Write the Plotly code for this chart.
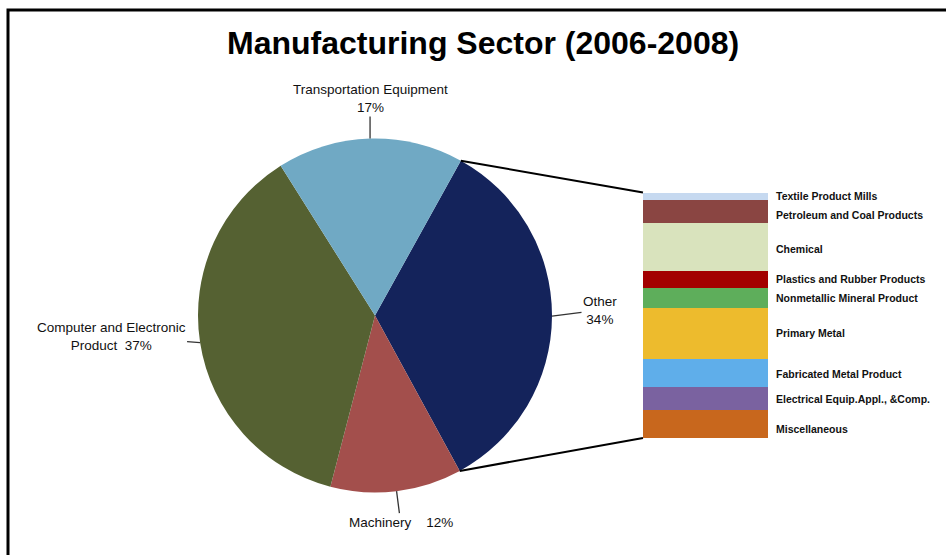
import math
import plotly.graph_objects as go

# ---------------- data ----------------
title_text = "Manufacturing Sector (2006-2008)"

pie_labels = ["Other", "Machinery", "Computer and Electronic Product", "Transportation Equipment"]
pie_values = [34, 12, 37, 17]
pie_colors = ["#14235B", "#A34F4C", "#556132", "#70A9C4"]
pie_text = ["Other<br>34%",
            "Machinery\u00a0\u00a0\u00a0 12%",
            "Computer and Electronic<br>Product\u00a0 37%",
            "Transportation Equipment<br>17%"]

other_labels = ["Textile Product Mills", "Petroleum and Coal Products", "Chemical",
                "Plastics and Rubber Products", "Nonmetallic Mineral Product", "Primary Metal",
                "Fabricated Metal Product", "Electrical Equip.Appl., &Comp.", "Miscellaneous"]
other_values = [1.0, 3.2, 6.6, 2.4, 2.7, 7.1, 3.8, 3.3, 3.9]
other_colors = ["#C6D9F0", "#8A4542", "#D9E3BD", "#A30000", "#5EAE5B",
                "#EDBB2D", "#5FAEEA", "#7A62A0", "#C8671D"]

# ---------------- layout geometry ----------------
W, H = 946, 555
def px(x):
    return x / W
def py(y):
    return 1 - y / H

cx, cy, r = 375, 315.5, 177          # pie centre / radius in pixels
rotation = 29
pie_dom_x = [px(cx - r), px(cx + r)]
pie_dom_y = [py(cy + r), py(cy - r)]

bar_left, bar_right, bar_top, bar_bottom = 643, 768, 192.5, 438
bar_dom_x = [px(bar_left), px(bar_right)]
bar_dom_y = [py(bar_bottom), py(bar_top)]

label_offsets = [(48, -6), (4, 31), (-89, -6), (0, -40)]
bar_label_shift = [0, -4, -2, 0, 0, 0, -2, -1, -5]

fig = go.Figure()

fig.add_trace(go.Pie(
    labels=pie_labels, values=pie_values, sort=False, direction="clockwise",
    rotation=rotation, marker=dict(colors=pie_colors, line=dict(width=0)),
    textinfo="none", hoverinfo="label+percent", showlegend=False,
    domain=dict(x=pie_dom_x, y=pie_dom_y)))

# stacked bar for "Other" breakdown (bottom first)
for lab, val, col in reversed(list(zip(other_labels, other_values, other_colors))):
    fig.add_trace(go.Bar(x=[0], y=[val], width=1, name=lab, marker=dict(color=col, line=dict(width=0)),
                         showlegend=False, hoverinfo="name+y"))

total = sum(pie_values)
other_total = sum(other_values)

def pie_point(angle_deg, rad):
    a = math.radians(angle_deg)
    return px(cx + rad * math.sin(a)), py(cy - rad * math.cos(a))

annotations = []
shapes = []

# pie labels
start = rotation
for i, (v, txt) in enumerate(zip(pie_values, pie_text)):
    span = v / total * 360
    mid = start + span / 2
    x, y = pie_point(mid, r)
    ax, ay = label_offsets[i]
    annotations.append(dict(x=x, y=y, xref="paper", yref="paper", text=txt, showarrow=True,
                            arrowhead=0, arrowwidth=1.3, arrowcolor="#333333", ax=ax, ay=ay,
                            standoff=0, align="center",
                            font=dict(family="Liberation Sans, Arial", size=13.5, color="#111111")))
    if i == 0:
        other_start, other_end = start, start + span
    start += span

# connector lines from "Other" slice to bar
x0, y0 = pie_point(other_start, r)
x1, y1 = pie_point(other_end, r)
shapes.append(dict(type="line", xref="paper", yref="paper", x0=x0, y0=y0,
                   x1=bar_dom_x[0], y1=bar_dom_y[1], line=dict(color="black", width=2)))
shapes.append(dict(type="line", xref="paper", yref="paper", x0=x1, y0=y1,
                   x1=bar_dom_x[0], y1=bar_dom_y[0], line=dict(color="black", width=2)))

# bar labels
cum = other_total
for lab, val, sh in zip(other_labels, other_values, bar_label_shift):
    mid = cum - val / 2
    cum -= val
    annotations.append(dict(x=px(bar_right + 6), y=mid, xref="paper", yref="y", text=lab,
                            showarrow=False, xanchor="left", yanchor="middle", yshift=sh,
                            font=dict(family="Liberation Sans, Arial", size=10.5, color="#111111",
                                      weight="bold")))

# title
annotations.append(dict(x=px(483), y=py(43), xref="paper", yref="paper", text=title_text,
                        showarrow=False, xanchor="center", yanchor="middle",
                        font=dict(family="Liberation Sans, Arial", size=32, color="black",
                                  weight="bold")))

# border
shapes.append(dict(type="rect", xref="paper", yref="paper", x0=px(8), y0=py(10), x1=1.05, y1=-0.05,
                   line=dict(color="black", width=3)))

fig.update_layout(
    width=W, height=H, autosize=False,
    margin=dict(l=0, r=0, t=0, b=0),
    paper_bgcolor="white", plot_bgcolor="white",
    barmode="stack", bargap=0,
    xaxis=dict(domain=bar_dom_x, range=[-0.5, 0.5], visible=False, fixedrange=True),
    yaxis=dict(domain=bar_dom_y, range=[0, other_total], visible=False, fixedrange=True),
    annotations=annotations, shapes=shapes,
)

fig.write_html("out.html")
